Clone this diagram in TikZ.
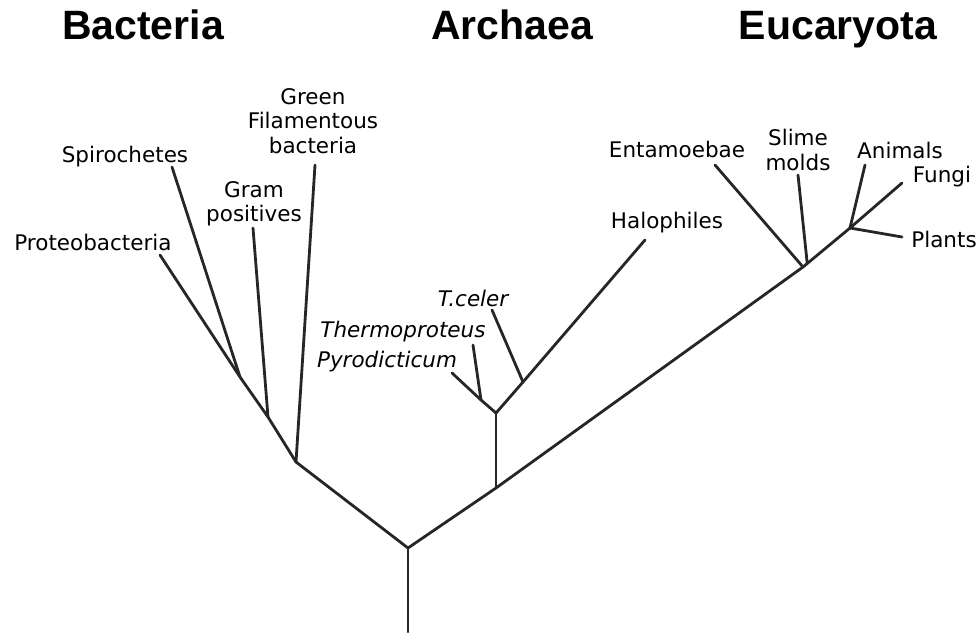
\documentclass[tikz,border=0pt]{standalone}
\usepackage{fontspec}
\setmainfont{DejaVu Sans}
\newfontfamily\titlefont{Liberation Sans}
\usetikzlibrary{positioning,calc}
\tikzset{every picture/.style={line width=0.75pt}}
\tikzset{
  branch/.style={draw=black!85, line width=2.8pt, line cap=round, line join=round},
  taxon/.style={inner sep=0pt, align=center, font=\fontsize{21.5}{24.5}\selectfont},
  domainlabel/.style={inner sep=0pt, anchor=base, font=\titlefont\bfseries\fontsize{41}{45}\selectfont}
}

\begin{document}
\begin{tikzpicture}[x=1pt,y=1pt]
    \useasboundingbox (0,0) rectangle (979,632);

    % 三个域
    \node[domainlabel] (tbac) at (143,592) {Bacteria};
    \node[domainlabel] (tarc) at (512,592) {Archaea};
    \node[domainlabel] (teuk) at (838,592) {Eucaryota};

    % 分叉点
    \coordinate (rb)   at (408,0);
    \coordinate (r)    at (408,84);
    \coordinate (bac)  at (296,170);
    \coordinate (bac2) at (268,215);
    \coordinate (bac3) at (240,255);
    \coordinate (arc)  at (496,144);
    \coordinate (arc2) at (496,219);
    \coordinate (pyr)  at (481,232);
    \coordinate (cel)  at (523,250);
    \coordinate (euk)  at (803,365);
    \coordinate (euk2) at ($(euk)!0.09!(850,404)$);
    \coordinate (euk3) at (850,404);

    % 枝端
    \coordinate (eproteo) at (160,377);
    \coordinate (espiro)  at (172,465);
    \coordinate (egram)   at (253,404);
    \coordinate (egreen)  at (315,467);
    \coordinate (epyr)    at (452,259);
    \coordinate (ethermo) at (473,287);
    \coordinate (ecel)    at (492,322);
    \coordinate (ehalo)   at (645,392);
    \coordinate (eentam)  at (715,467);
    \coordinate (eslime)  at (798,457);
    \coordinate (eanim)   at (865,467);
    \coordinate (efungi)  at (902,449);
    \coordinate (eplant)  at (902,395);

    % 主干
    \draw[branch] (rb) -- (r);
    \draw[branch] (r) -- (bac);
    \draw[branch] (r) -- (arc) -- (euk) -- (euk3);

    % Bacteria
    \draw[branch] (bac) -- (bac2) -- (bac3) -- (eproteo);
    \draw[branch] (bac3) -- (espiro);
    \draw[branch] (bac2) -- (egram);
    \draw[branch] (bac) -- (egreen);

    % Archaea
    \draw[branch] (arc) -- (arc2);
    \draw[branch] (arc2) -- (pyr) -- (epyr);
    \draw[branch] (pyr) -- (ethermo);
    \draw[branch] (arc2) -- (cel) -- (ehalo);
    \draw[branch] (cel) -- (ecel);

    % Eucaryota
    \draw[branch] (euk) -- (eentam);
    \draw[branch] (euk2) -- (eslime);
    \draw[branch] (euk3) -- (eanim);
    \draw[branch] (euk3) -- (efungi);
    \draw[branch] (euk3) -- (eplant);

    % 标注
    \node[taxon] (proteo) at (93,390)  {Proteobacteria};
    \node[taxon] (spiro)  at (125,475) {Spirochetes};
    \node[taxon] (gram)   at (254,428) {Gram\\positives};
    \node[taxon] (green)  at (313,511) {Green\\Filamentous\\bacteria};
    \node[taxon] (celer)  at (473,334) {\itshape T.celer};
    \node[taxon] (thermo) at (403,300) {\itshape Thermoproteus};
    \node[taxon] (pyrod)  at (387,270) {\itshape Pyrodicticum};
    \node[taxon] (halo)   at (667,409) {Halophiles};
    \node[taxon] (entam)  at (677,483) {Entamoebae};
    \node[taxon] (slime)  at (798,482) {Slime\\molds};
    \node[taxon] (anim)   at (900,482) {Animals};
    \node[taxon] (fungi)  at (942,455) {Fungi};
    \node[taxon] (plant)  at (944,393) {Plants};
\end{tikzpicture}
\end{document}
